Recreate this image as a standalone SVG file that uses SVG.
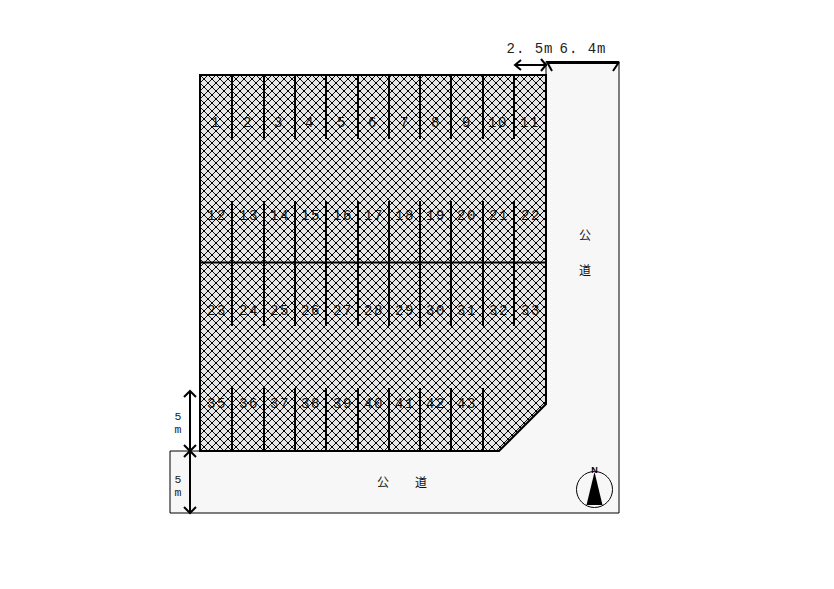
<svg xmlns="http://www.w3.org/2000/svg" width="834" height="589" viewBox="0 0 834 589">
<style>
.l{font-family:"Liberation Mono","DejaVu Sans Mono",monospace;font-size:14px;fill:#222;text-anchor:middle;letter-spacing:1px}
.d{font-family:"Liberation Mono","DejaVu Sans Mono",monospace;font-size:11.500px;fill:#222;text-anchor:middle}
.n{font-family:"Liberation Mono","DejaVu Sans Mono",monospace;font-size:14px;fill:#111;text-anchor:middle;letter-spacing:1.500px}
.k{font-family:"Noto Sans CJK JP",sans-serif;font-size:12px;fill:#111;text-anchor:middle}
.v{stroke:#000;stroke-width:2;fill:none}
.a{stroke:#000;stroke-width:2;fill:none}
</style>
<defs>
<pattern id="h" width="8" height="8" patternUnits="userSpaceOnUse" x="200" y="75">
<rect width="8" height="8" fill="#e6e6e6"/>
<path d="M0 0L8 8M8 0L0 8" stroke="#111" stroke-width="1"/>
<rect x="3" y="3" width="2" height="2" fill="#000"/>
<rect x="-1" y="-1" width="2" height="2" fill="#000"/>
<rect x="7" y="-1" width="2" height="2" fill="#000"/>
<rect x="-1" y="7" width="2" height="2" fill="#000"/>
<rect x="7" y="7" width="2" height="2" fill="#000"/>
</pattern>
</defs>
<rect width="834" height="589" fill="#fff"/>
<g id="road"><path d="M546 61.500H619V513H170V451H200V75H546Z" fill="#f7f7f7" stroke="#000" stroke-width="1"/></g>
<g id="lot"><path d="M200 75H546V404L499 451H200Z" fill="url(#h)" stroke="#000" stroke-width="2"/></g>
<g id="dividers">
<path class="v" d="M232 75V139M264 75V139M295 75V139M326 75V139M358 75V139M389 75V139M420 75V139M451 75V139M483 75V139M514 75V139"/>
<path class="v" d="M232 201V326M264 201V326M295 201V326M326 201V326M358 201V326M389 201V326M420 201V326M451 201V326M483 201V326M514 201V326"/>
<path class="v" d="M200 262.500H546"/>
<path class="v" d="M232 388V451M264 388V451M295 388V451M326 388V451M358 388V451M389 388V451M420 388V451M451 388V451M483 388V451"/>
</g>
<g id="row1"><text class="n" x="216" y="127">1</text><text class="n" x="248" y="127">2</text><text class="n" x="279" y="127">3</text><text class="n" x="310" y="127">4</text><text class="n" x="342" y="127">5</text><text class="n" x="373" y="127">6</text><text class="n" x="405" y="127">7</text><text class="n" x="436" y="127">8</text><text class="n" x="467" y="127">9</text><text class="n" x="498" y="127">10</text><text class="n" x="530" y="127">11</text></g>
<g id="row2"><text class="n" x="217" y="220">12</text><text class="n" x="249" y="220">13</text><text class="n" x="280" y="220">14</text><text class="n" x="311" y="220">15</text><text class="n" x="343" y="220">16</text><text class="n" x="374" y="220">17</text><text class="n" x="405" y="220">18</text><text class="n" x="436" y="220">19</text><text class="n" x="467" y="220">20</text><text class="n" x="499" y="220">21</text><text class="n" x="531" y="220">22</text></g>
<g id="row3"><text class="n" x="217" y="315">23</text><text class="n" x="249" y="315">24</text><text class="n" x="280" y="315">25</text><text class="n" x="311" y="315">26</text><text class="n" x="343" y="315">27</text><text class="n" x="374" y="315">28</text><text class="n" x="405" y="315">29</text><text class="n" x="436" y="315">30</text><text class="n" x="467" y="315">31</text><text class="n" x="499" y="315">32</text><text class="n" x="531" y="315">33</text></g>
<g id="row4"><text class="n" x="217" y="408">35</text><text class="n" x="249" y="408">36</text><text class="n" x="280" y="408">37</text><text class="n" x="311" y="408">38</text><text class="n" x="343" y="408">39</text><text class="n" x="374" y="408">40</text><text class="n" x="405" y="408">41</text><text class="n" x="436" y="408">42</text><text class="n" x="467" y="408">43</text></g>
<g id="road-labels">
<text class="k" x="585" y="240">公</text><text class="k" x="585" y="275">道</text>
<text class="k" x="383" y="487">公</text><text class="k" x="421" y="487">道</text>
</g>
<g id="dims">
<path class="a" d="M515 65H546M521 60L515 65L521 70M541 59L546 65L541 71"/>
<path class="a" d="M547 63H619M547 62L552 71M619 62L613 71"/>
<path class="a" d="M190 391V451M184 397L190 391L196 397M184 445L190 451L196 445"/>
<path class="a" d="M190 451V513M184 457L190 451L196 457M184 507L190 513L196 507"/>
<text class="l" x="530" y="53">2. 5m</text>
<text class="l" x="583" y="53">6. 4m</text>
<text class="d" x="178" y="420">5</text><text class="d" x="178" y="433">m</text>
<text class="d" x="178" y="483">5</text><text class="d" x="178" y="496">m</text>
</g>
<g id="compass">
<circle cx="594.500" cy="489.500" r="18" fill="#f7f7f7" stroke="#000"/>
<path d="M594.500 472L586.500 505H602.500Z" fill="#000"/>
<text x="594.500" y="473" font-family="Liberation Sans,sans-serif" font-size="9" font-weight="bold" text-anchor="middle" fill="#000">N</text>
</g>
</svg>
